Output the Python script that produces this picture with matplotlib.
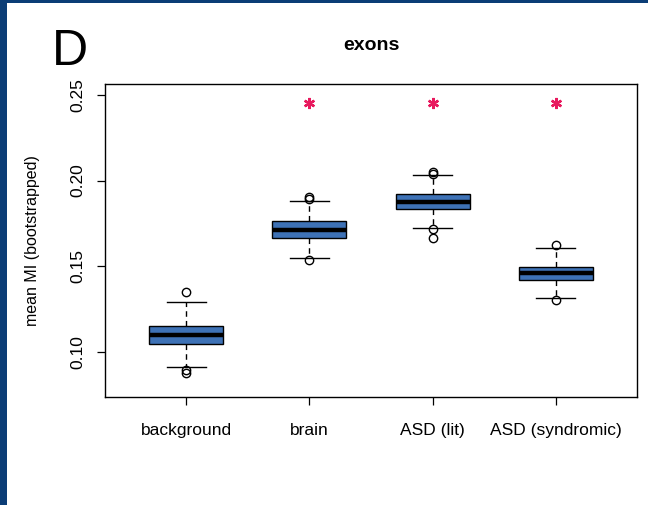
import matplotlib
matplotlib.use("Agg")
import matplotlib.pyplot as plt
from matplotlib.patches import Rectangle

plt.rcParams['font.family'] = ['Liberation Sans', 'DejaVu Sans']

categories = ["background", "brain", "ASD (lit)", "ASD (syndromic)"]
q1 = [0.1045, 0.1662, 0.1832, 0.1418]
med = [0.1096, 0.1709, 0.1877, 0.1457]
q3 = [0.1150, 0.1764, 0.1920, 0.1496]
whislo = [0.0908, 0.1549, 0.1721, 0.1312]
whishi = [0.1290, 0.1881, 0.2030, 0.1605]
fliers = [[0.1348, 0.0893, 0.0878],
          [0.1905, 0.1893, 0.1533],
          [0.2047, 0.2040, 0.1715, 0.1666],
          [0.1624, 0.1304]]
significant = [False, True, True, True]
star_y = 0.2453
yticks = [0.10, 0.15, 0.20, 0.25]

W, H = 648, 505
fig = plt.figure(figsize=(W / 100, H / 100), dpi=100)
fig.patch.set_facecolor('#0b3d76')
fig.add_artist(Rectangle((7 / W, 0), 1 - 7 / W, 1 - 3 / H, transform=fig.transFigure,
                         facecolor='white', edgecolor='none', zorder=0))

ax = fig.add_axes([105 / W, (H - 397) / H, (637 - 105) / W, (397 - 84) / H])
ax.set_facecolor('white')

positions = list(range(1, len(categories) + 1))
stats = []
for i in range(len(categories)):
    stats.append(dict(med=med[i], q1=q1[i], q3=q3[i], whislo=whislo[i],
                      whishi=whishi[i], fliers=fliers[i], label=categories[i]))

ax.bxp(stats, positions=positions, widths=0.6, capwidths=0.32, patch_artist=True,
       boxprops=dict(facecolor='#3e72b6', edgecolor='black', linewidth=1.0),
       medianprops=dict(color='black', linewidth=3.2, solid_capstyle='butt'),
       whiskerprops=dict(color='black', linewidth=1.0, linestyle=(0, (4, 3))),
       capprops=dict(color='black', linewidth=1.0),
       flierprops=dict(marker='o', markerfacecolor='none', markeredgecolor='black',
                       markersize=6, markeredgewidth=1.0))

star_x = [p for p, s in zip(positions, significant) if s]
ax.plot(star_x, [star_y] * len(star_x), linestyle='none', marker=(6, 2, 0),
        markersize=8, markeredgewidth=1.7, color='#e8195e')

ax.set_xlim(0.34, 4.66)
ax.set_ylim(0.0735, 0.2564)
ax.set_yticks(yticks)
ax.set_yticklabels([f"{v:.2f}" for v in yticks], rotation=90, va='center')
ax.set_xticks(positions)
ax.set_xticklabels(categories)
ax.tick_params(axis='both', direction='out', length=6, width=0.9, labelsize=12.5, colors='black')
ax.tick_params(axis='x', pad=13)
ax.tick_params(axis='y', pad=8)
for sp in ax.spines.values():
    sp.set_linewidth(1.0)
    sp.set_color('black')

ax.set_ylabel('mean MI (bootstrapped)', fontsize=11.5, labelpad=22)
fig.text((105 + 637) / 2 / W, 1 - 45 / H, 'exons', fontsize=14, fontweight='bold',
         ha='center', va='center')
fig.text(52 / W, 1 - 65 / H, 'D', fontsize=36, ha='left', va='baseline')

fig.savefig('out.png', dpi=100, facecolor=fig.get_facecolor())
